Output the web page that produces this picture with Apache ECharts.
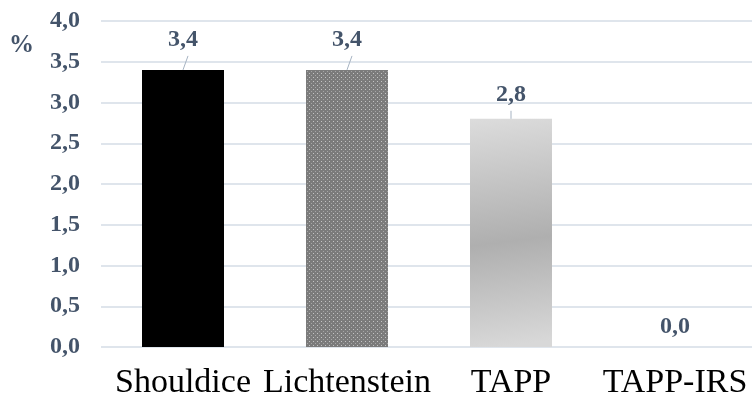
<!DOCTYPE html>
<html>
<head>
<meta charset="utf-8">
<script src="https://cdn.jsdelivr.net/npm/echarts@6/dist/echarts.min.js"></script>
<style>
  html, body { margin: 0; padding: 0; background: #fff; }
  #chart { width: 752px; height: 394px; }
</style>
</head>
<body>
<div id="chart"></div>
<script>
// Recurrence rate by repair technique (%)
const categories = ['Shouldice', 'Lichtenstein', 'TAPP', 'TAPP-IRS'];
const values = [3.4, 3.4, 2.8, 0.0];
const yTicks = [0, 0.5, 1, 1.5, 2, 2.5, 3, 3.5, 4];

const fmt = v => v.toFixed(1).replace('.', ',');

// dotted fill for the second bar
function dotPattern() {
  const c = document.createElement('canvas');
  c.width = 4; c.height = 4;
  const g = c.getContext('2d');
  g.fillStyle = '#7b7b7b';
  g.fillRect(0, 0, 4, 4);
  g.fillStyle = '#c4c4c4';
  g.fillRect(1, 1, 1, 1);
  g.fillStyle = '#a6a6a6';
  g.fillRect(3, 3, 1, 1);
  return c;
}

const fills = [
  '#000000',
  { image: dotPattern(), repeat: 'repeat' },
  new echarts.graphic.LinearGradient(0, 0, 0.35, 1, [
    { offset: 0, color: '#dcdcdc' },
    { offset: 0.55, color: '#afafaf' },
    { offset: 1, color: '#d8d8d8' }
  ]),
  '#cccccc'
];
// gap between bar top and its value label
const labelLift = [18, 18, 12, 8];
const slate = '#44546a';

const chart = echarts.init(document.getElementById('chart'));
chart.setOption({
  animation: false,
  grid: { left: 101, right: -5, top: 21, bottom: 47, containLabel: false, outerBoundsMode: 'none' },
  graphic: [{
    type: 'text', left: 9, top: 33,
    style: {
      text: '%', fontFamily: 'Liberation Serif', fontWeight: 'bold',
      fontSize: 25, fill: slate
    }
  }],
  xAxis: {
    type: 'category',
    data: categories,
    axisLine: { show: false },
    axisTick: { show: false },
    axisLabel: {
      interval: 0,
      hideOverlap: false,
      margin: 19,
      fontFamily: 'Liberation Serif',
      fontSize: 34,
      color: '#000'
    }
  },
  yAxis: {
    type: 'value',
    min: yTicks[0],
    max: yTicks[yTicks.length - 1],
    interval: 0.5,
    axisLine: { show: false },
    axisTick: { show: false },
    splitLine: { lineStyle: { color: '#d5dde6', width: 1.5 } },
    axisLabel: {
      margin: 21,
      fontFamily: 'Liberation Serif',
      fontWeight: 'bold',
      fontSize: 24,
      color: slate,
      formatter: v => fmt(v)
    }
  },
  series: [{
    type: 'bar',
    barWidth: '50%',
    data: values.map((v, i) => ({
      value: v,
      itemStyle: { color: fills[i] },
      label: { distance: labelLift[i] }
    })),
    label: {
      show: true,
      position: 'top',
      fontFamily: 'Liberation Serif',
      fontWeight: 'bold',
      fontSize: 24,
      color: slate,
      formatter: p => fmt(p.value)
    }
  }]
});

// leader lines from bar top to its value label
const zr = chart.getZr();
values.forEach((v, i) => {
  if (v <= 0) return;
  const top = chart.convertToPixel({ gridIndex: 0 }, [i, v]);
  const slant = labelLift[i] > 15 ? 5 : 0;
  zr.add(new echarts.graphic.Line({
    shape: { x1: top[0], y1: top[1], x2: top[0] + slant, y2: top[1] - labelLift[i] + 4 },
    style: { stroke: '#a6b3c2', lineWidth: 1 },
    z: 10
  }));
});
</script>
</body>
</html>
